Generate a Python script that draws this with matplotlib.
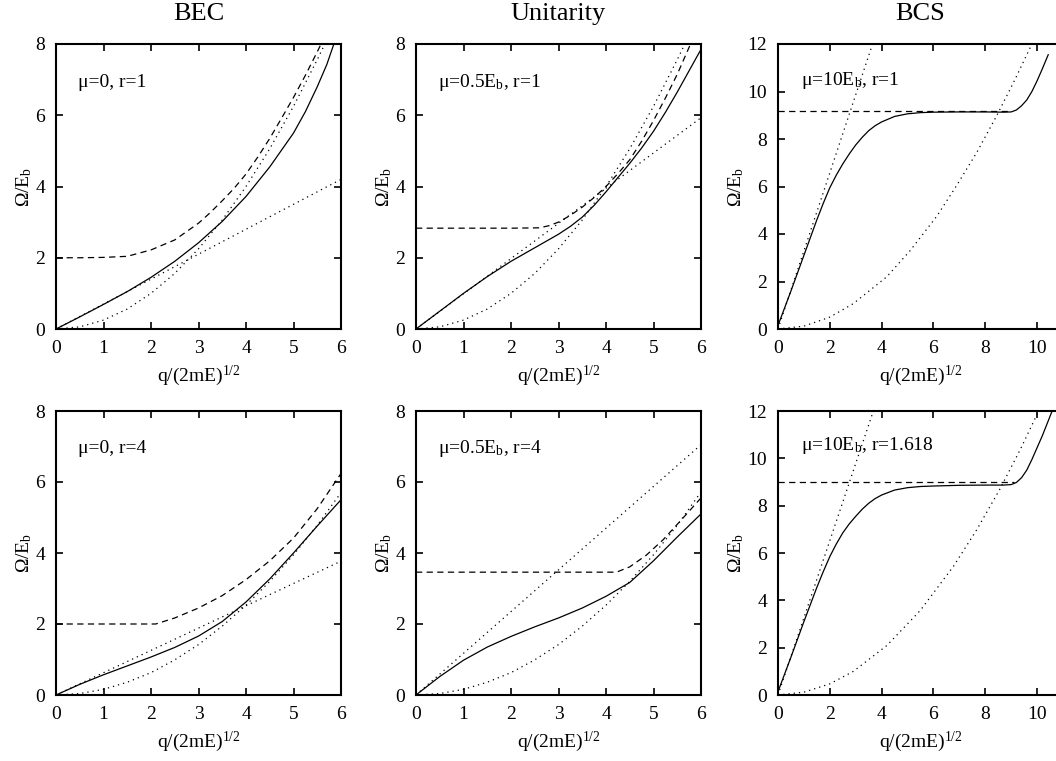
import matplotlib
matplotlib.use('Agg')
import matplotlib.pyplot as plt

plt.rcParams['font.family'] = ['Liberation Serif', 'DejaVu Serif']
plt.rcParams['mathtext.fontset'] = 'custom'
plt.rcParams['mathtext.rm'] = 'Liberation Serif'
plt.rcParams['mathtext.it'] = 'Liberation Serif:italic'

col_titles = ['BEC', 'Unitarity', 'BCS']
xlabel = r'q/(2mE)$^{\mathrm{1/2}}$'
ylabel = r'$\Omega$/E$_{\mathrm{b}}$'

# ---------------- BEC, r=1 ----------------
bec1_label = 'μ=0, r=1'
bec1_solid_q = [0, 0.5, 1, 1.5, 2, 2.5, 3, 3.5, 4, 4.5, 5, 5.25, 5.5, 5.7, 5.85]
bec1_solid_w = [0, 0.34, 0.69, 1.05, 1.45, 1.9, 2.42, 3.02, 3.72, 4.55, 5.5, 6.1, 6.8, 7.42, 8.0]
bec1_dash_q = [0, 0.5, 1, 1.5, 2, 2.5, 3, 3.25, 3.5, 3.75, 4, 4.25, 4.5, 4.75, 5, 5.25, 5.5, 5.58]
bec1_dash_w = [2.0, 2.0, 2.01, 2.04, 2.22, 2.5, 2.97, 3.27, 3.6, 3.95, 4.35, 4.83, 5.35, 5.92, 6.5, 7.12, 7.78, 8.0]
bec1_line_q = [0, 6]
bec1_line_w = [0, 4.2]
bec1_free_q = [0, 0.5, 1, 1.5, 2, 2.5, 3, 3.5, 4, 4.5, 5, 5.5, 5.66]
bec1_free_w = [0, 0.06, 0.25, 0.56, 1.0, 1.56, 2.25, 3.06, 4.0, 5.06, 6.25, 7.56, 8.0]

# ---------------- Unitarity, r=1 ----------------
uni1_label = r'μ=0.5E$_{\mathrm{b}}$, r=1'
uni1_solid_q = [0, 0.5, 1, 1.5, 2, 2.5, 3, 3.25, 3.5, 3.75, 4, 4.25, 4.5, 4.75, 5, 5.25, 5.5, 5.75, 6]
uni1_solid_w = [0, 0.5, 1.0, 1.47, 1.9, 2.28, 2.66, 2.88, 3.14, 3.47, 3.85, 4.25, 4.65, 5.08, 5.55, 6.08, 6.65, 7.25, 7.85]
uni1_dash_q = [0, 1, 2, 2.6, 2.8, 3, 3.25, 3.5, 3.75, 4, 4.25, 4.5, 4.75, 5, 5.25, 5.5, 5.78]
uni1_dash_w = [2.83, 2.83, 2.83, 2.84, 2.9, 3.0, 3.19, 3.42, 3.69, 4.0, 4.36, 4.75, 5.27, 5.85, 6.48, 7.15, 8.0]
uni1_line_q = [0, 6]
uni1_line_w = [0, 5.93]
uni1_free_q = [0, 0.5, 1, 1.5, 2, 2.5, 3, 3.5, 4, 4.5, 5, 5.5, 5.66]
uni1_free_w = [0, 0.06, 0.25, 0.56, 1.0, 1.56, 2.25, 3.06, 4.0, 5.06, 6.25, 7.56, 8.0]

# ---------------- BCS, r=1 ----------------
bcs1_label = r'μ=10E$_{\mathrm{b}}$, r=1'
bcs1_solid_q = [0, 0.5, 1.0, 1.5, 1.75, 2.0, 2.25, 2.5, 2.75, 3.0, 3.25, 3.5, 3.75, 4.0, 4.5, 5.0, 5.5,
                6.0, 7.0, 8.0, 8.7, 9.0, 9.2, 9.4, 9.6, 9.8, 10.0, 10.2, 10.43]
bcs1_solid_w = [0.15, 1.6, 3.1, 4.6, 5.3, 5.95, 6.48, 6.95, 7.37, 7.75, 8.07, 8.35, 8.56, 8.72, 8.95, 9.06, 9.11,
                9.13, 9.14, 9.14, 9.13, 9.14, 9.22, 9.4, 9.64, 10.0, 10.45, 10.95, 11.55]
bcs1_dash_q = [0, 9.0]
bcs1_dash_w = [9.17, 9.17]
bcs1_line_q = [0, 3.65]
bcs1_line_w = [0, 12.0]
bcs1_free_q = [0, 1, 2, 2.91, 4.2, 5.1, 6.13, 6.9, 7.68, 8.45, 9.1, 9.8]
bcs1_free_w = [0, 0.12, 0.5, 1.07, 2.2, 3.3, 4.75, 6.05, 7.45, 9.0, 10.4, 12.0]

# ---------------- BEC, r=4 ----------------
bec4_label = 'μ=0, r=4'
bec4_solid_q = [0, 0.5, 1, 1.5, 2, 2.5, 3, 3.5, 4, 4.5, 5, 5.5, 6]
bec4_solid_w = [0, 0.3, 0.57, 0.82, 1.07, 1.34, 1.66, 2.07, 2.62, 3.27, 4.0, 4.76, 5.5]
bec4_dash_q = [0, 1, 2.1, 2.5, 3, 3.5, 4, 4.5, 5, 5.5, 6]
bec4_dash_w = [2.0, 2.0, 2.0, 2.17, 2.45, 2.8, 3.25, 3.78, 4.42, 5.25, 6.24]
bec4_line_q = [0, 6]
bec4_line_w = [0, 3.77]
bec4_free_q = [0, 0.5, 1, 1.5, 2, 2.5, 3, 3.5, 4, 4.5, 5, 5.5, 6]
bec4_free_w = [0, 0.04, 0.16, 0.36, 0.63, 0.99, 1.42, 1.94, 2.53, 3.2, 3.95, 4.78, 5.7]

# ---------------- Unitarity, r=4 ----------------
uni4_label = r'μ=0.5E$_{\mathrm{b}}$, r=4'
uni4_solid_q = [0, 0.5, 1, 1.5, 2, 2.5, 3, 3.5, 4, 4.5, 5, 5.5, 6]
uni4_solid_w = [0, 0.52, 0.98, 1.35, 1.65, 1.92, 2.17, 2.45, 2.78, 3.17, 3.78, 4.45, 5.1]
uni4_dash_q = [0, 2, 4.22, 4.5, 4.85, 5.2, 5.55, 6]
uni4_dash_w = [3.46, 3.46, 3.46, 3.61, 3.94, 4.37, 4.88, 5.55]
uni4_line_q = [0, 6]
uni4_line_w = [0, 7.05]
uni4_free_q = [0, 0.5, 1, 1.5, 2, 2.5, 3, 3.5, 4, 4.5, 5, 5.5, 6]
uni4_free_w = [0, 0.04, 0.16, 0.36, 0.63, 0.99, 1.42, 1.94, 2.53, 3.2, 3.95, 4.78, 5.72]

# ---------------- BCS, r=1.618 ----------------
bcs2_label = r'μ=10E$_{\mathrm{b}}$, r=1.618'
bcs2_solid_q = [0, 0.5, 1.0, 1.5, 1.75, 2.0, 2.25, 2.5, 2.75, 3.0, 3.25, 3.5, 3.75, 4.0, 4.5, 5.0, 5.5,
                6.0, 7.0, 8.0, 8.7, 9.0, 9.2, 9.4, 9.6, 9.8, 10.0, 10.2, 10.4, 10.58]
bcs2_solid_w = [0.14, 1.6, 3.1, 4.55, 5.22, 5.85, 6.38, 6.85, 7.23, 7.55, 7.85, 8.1, 8.3, 8.45, 8.66, 8.76, 8.81,
                8.83, 8.86, 8.87, 8.87, 8.89, 8.98, 9.18, 9.5, 9.95, 10.45, 10.95, 11.5, 12.0]
bcs2_dash_q = [0, 9.1]
bcs2_dash_w = [9.02, 9.02]
bcs2_line_q = [0, 3.68]
bcs2_line_w = [0, 12.0]
bcs2_free_q = [0, 1, 2, 2.91, 4.2, 5.49, 6.78, 7.68, 8.58, 9.35, 10.06]
bcs2_free_w = [0, 0.12, 0.47, 1.0, 2.09, 3.57, 5.45, 7.0, 8.73, 10.37, 12.0]

panels = [
    (bec1_label, bec1_solid_q, bec1_solid_w, bec1_dash_q, bec1_dash_w, bec1_line_q, bec1_line_w, bec1_free_q, bec1_free_w),
    (uni1_label, uni1_solid_q, uni1_solid_w, uni1_dash_q, uni1_dash_w, uni1_line_q, uni1_line_w, uni1_free_q, uni1_free_w),
    (bcs1_label, bcs1_solid_q, bcs1_solid_w, bcs1_dash_q, bcs1_dash_w, bcs1_line_q, bcs1_line_w, bcs1_free_q, bcs1_free_w),
    (bec4_label, bec4_solid_q, bec4_solid_w, bec4_dash_q, bec4_dash_w, bec4_line_q, bec4_line_w, bec4_free_q, bec4_free_w),
    (uni4_label, uni4_solid_q, uni4_solid_w, uni4_dash_q, uni4_dash_w, uni4_line_q, uni4_line_w, uni4_free_q, uni4_free_w),
    (bcs2_label, bcs2_solid_q, bcs2_solid_w, bcs2_dash_q, bcs2_dash_w, bcs2_line_q, bcs2_line_w, bcs2_free_q, bcs2_free_w),
]

W, H = 1056, 761
fig = plt.figure(figsize=(W / 100, H / 100), dpi=100)

col_left = [56, 416, 778]
col_width = 285
row_top = [44, 411]
row_height = [285, 284]

lw = 0.9
for i, p in enumerate(panels):
    r, c = divmod(i, 3)
    left = col_left[c] / W
    bottom = (H - row_top[r] - row_height[r]) / H
    ax = fig.add_axes([left, bottom, col_width / W, row_height[r] / H])
    label, sq, sw, dq, dw, lq, lwv, fq, fw = p
    ax.plot(sq, sw, color='black', lw=lw, solid_joinstyle='round')
    ax.plot(dq, dw, color='black', lw=lw, dashes=(5, 3.5))
    ax.plot(lq, lwv, color='black', lw=lw, dashes=(1.0, 3.2))
    ax.plot(fq, fw, color='black', lw=lw, dashes=(1.0, 3.2))

    if c == 2:
        ax.set_xlim(0, 11)
        ax.set_ylim(0, 12)
        ax.set_xticks([0, 2, 4, 6, 8, 10])
        ax.set_yticks([0, 2, 4, 6, 8, 10, 12])
        ax.text(0.9, 10.45 if r == 0 else 10.55, label, fontsize=14, va='center', ha='left')
    else:
        ax.set_xlim(0, 6)
        ax.set_ylim(0, 8)
        ax.set_xticks(range(7))
        ax.set_yticks([0, 2, 4, 6, 8])
        ax.text(0.47, 6.93, label, fontsize=14, va='center', ha='left')

    for s in ax.spines.values():
        s.set_linewidth(1.5)
    ax.tick_params(direction='in', top=True, right=True, length=5, width=1.2,
                   labelsize=14, pad=8)
    ax.set_xlabel(xlabel, fontsize=14, labelpad=5)
    ax.set_ylabel(ylabel, fontsize=14, labelpad=1)
    if r == 0:
        ax.set_title(col_titles[c], fontsize=19, pad=17)

fig.savefig('out.png', dpi=100)
